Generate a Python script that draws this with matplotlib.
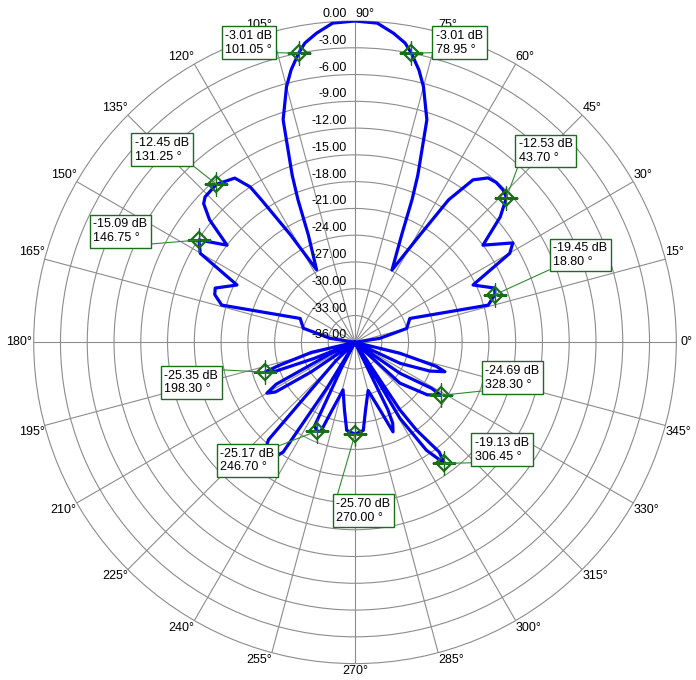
import numpy as np
import matplotlib
matplotlib.use("Agg")
import matplotlib.pyplot as plt

plt.rcParams["font.family"] = ["Liberation Sans", "DejaVu Sans"]

# traced pattern: angle (deg) and level (dB); -36 dB sits at the centre
ANGLES = [
    0, 9, 15, 23.5, 15.6, 18.8, 21.2, 25.9, 29.9, 32.2, 37.2, 40.8, 43.7, 45.8,
    48.5, 51.0, 54.0, 56.7, 58.8, 62.9, 66.5, 68.2, 69.4, 70.8, 72.1, 75.0,
    76.8, 78.95, 80.5, 82.9, 86.0, 90.0, 94.0, 97.1, 99.5, 101.05, 103.2,
    105.0, 107.9, 109.2, 110.6, 111.8, 113.5, 117.9, 121.0, 123.3, 124.0,
    126.2, 131.25, 135.9, 137.5, 139.9, 142.8, 146.75, 150.1, 154.1, 158.8,
    161.2, 164.4, 156.5, 164.8, 171.0, 180,
    193, 197, 198.3, 200, 201.5, 203,
    205, 208, 210, 212, 214, 217,
    224, 228.4, 232.5, 236.8, 238.5, 240,
    242, 244.2, 246.7, 249, 251, 255.9,
    261.2, 264.6, 270, 275.4, 278.8, 285.2,
    290.3, 293, 295, 296, 298,
    300.6, 303.5, 306.45, 307.5, 305, 303.6, 306,
    317.7, 324, 328.3, 329, 325.4, 326,
    335, 339, 341.9, 343.5, 346.3, 350, 360,
]
GAINS = [
    -36, -33.2, -30.0, -29.3, -20.5, -19.45, -19.2, -21.3, -16.0, -15.1, -18.0,
    -14.5, -12.53, -12.2, -12.1, -12.3, -13.5, -16.9, -21.9, -26.9, -22.9,
    -18.8, -16.0, -13.2, -9.8, -6.35, -4.65, -3.01, -2.0, -1.1, -0.15, 0.0,
    -0.15, -1.1, -2.0, -3.01, -4.65, -6.35, -9.8, -13.2, -16.0, -18.8, -22.9,
    -26.8, -21.9, -16.9, -15.0, -13.2, -12.45, -12.6, -13.0, -14.7, -18.0,
    -15.09, -16.0, -21.3, -19.2, -19.4, -20.5, -29.3, -30.0, -33.2, -36,
    -31, -27, -25.35, -26.5, -31, -36,
    -33, -26, -24.6, -25.5, -30, -36,
    -33, -21.4, -18.5, -21.3, -30, -36,
    -33, -25.6, -25.17, -25.3, -27.7, -30.5,
    -28.3, -26.1, -25.70, -26.1, -28.3, -30.4,
    -27.9, -25.1, -26, -27.6, -36,
    -26.1, -21.5, -19.13, -20.5, -24, -26.9, -36,
    -29.2, -26, -24.69, -26, -29.9, -36,
    -30.4, -27, -25.4, -26.5, -30.8, -36, -36,
]

MARK_ANGLES = [101.05, 78.95, 131.25, 43.70, 146.75, 18.80,
               198.30, 246.70, 270.00, 328.30, 306.45]
MARK_GAINS = [-3.01, -3.01, -12.45, -12.53, -15.09, -19.45,
              -25.35, -25.17, -25.70, -24.69, -19.13]

R_TICKS = list(range(0, -37, -3))
THETA_TICKS = list(range(0, 360, 15))

# box top-left relative to the marker (pixels, y down) and leader attach point
BOX_LAYOUT = [
    (-77, -27, (1, 0.12)), (21, -27, (0, 0.12)), (-85, -51, (1, 0)),
    (9, -63, (0, 0)), (-109, -25, (1, 0)), (55, -56, (0, 0)),
    (-104, -6, (1, 1)), (-100, 13, (1, 1)), (-22, 60, (0, 1)),
    (41, -34, (0, 0)), (27, -30, (0, 0)),
]

GRID = "#8c8c8c"
BLUE = "#0000f0"
GREEN = "#1a6e1a"
LEADER = "#2e8b2e"

fig = plt.figure(figsize=(6.96, 6.80), dpi=100)
ax = fig.add_axes([33.7 / 696, 16.4 / 680, 642.6 / 696, 642.6 / 680], projection="polar")
ax.set_ylim(-36, 0)
ax.set_xticks(np.radians(THETA_TICKS))
ax.set_xticklabels([])
ax.set_yticks(R_TICKS[1:-1])
ax.set_yticklabels([])
ax.grid(True, color=GRID, lw=0.8)
ax.spines["polar"].set_color(GRID)
ax.spines["polar"].set_linewidth(0.8)

ax.plot(np.radians(ANGLES), GAINS, color=BLUE, lw=2.3, zorder=3)

# ring labels along 90 deg
for r in R_TICKS:
    ax.annotate(f"{r:.2f}", xy=(np.pi / 2, r), xytext=(-8, 1),
                textcoords="offset pixels", ha="right", va="bottom", fontsize=9)

# angle labels
for a in THETA_TICKS:
    if a == 0:
        ha, va, off = "left", "center", (4, 0)
    elif a == 180:
        ha, va, off = "right", "center", (-2, 0)
    elif a == 270:
        ha, va, off = "center", "top", (0, -1)
    elif a <= 90:
        ha, va, off = "left", "bottom", (0, 1)
    elif a < 180:
        ha, va, off = "right", "bottom", (0, 1)
    elif a < 270:
        ha, va, off = "right", "top", (0, -1)
    else:
        ha, va, off = "left", "top", (0, -1)
    ax.annotate(f"{a}°", xy=(np.radians(a), 0), xytext=off, textcoords="offset pixels",
                ha=ha, va=va, fontsize=9, annotation_clip=False)

# markers
th = np.radians(MARK_ANGLES)
ax.plot(th, MARK_GAINS, "D", mfc="none", mec=GREEN, mew=1.6, ms=8, zorder=5)
ax.plot(th, MARK_GAINS, "+", color=GREEN, mew=1.0, ms=17, zorder=5)

pad = 3.5
for a, g, (bx, by, rel) in zip(MARK_ANGLES, MARK_GAINS, BOX_LAYOUT):
    ax.annotate(f"{g:.2f} dB\n{a:.2f} °", xy=(np.radians(a), g),
                xytext=(bx + pad, -(by + pad)), textcoords="offset pixels",
                ha="left", va="top", fontsize=9, linespacing=1.2,
                bbox=dict(boxstyle="square,pad=0.28", fc="white", ec=GREEN, lw=1),
                arrowprops=dict(arrowstyle="-", color=LEADER, lw=0.8, relpos=rel,
                                shrinkA=0, shrinkB=0),
                zorder=6, annotation_clip=False)

fig.savefig("out.png", dpi=100)
